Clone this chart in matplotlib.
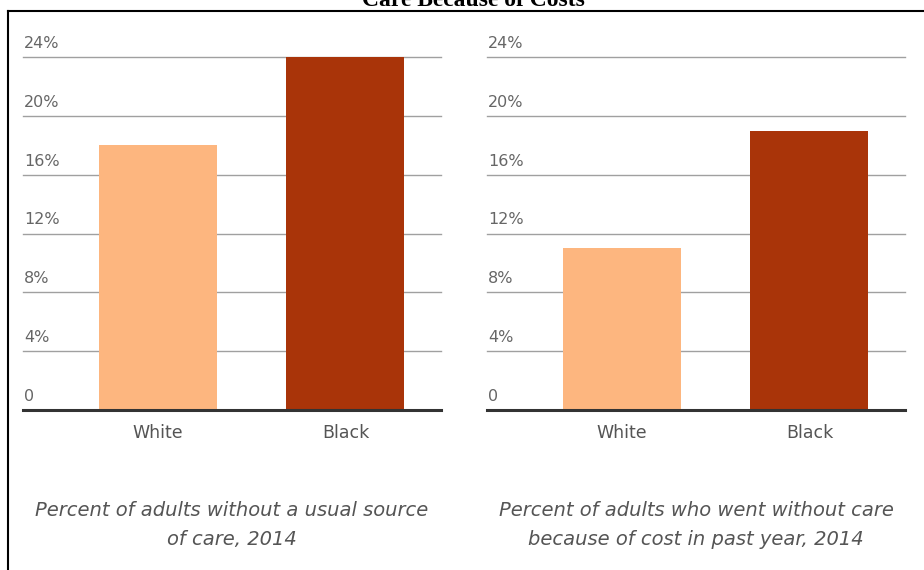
import matplotlib
matplotlib.use("Agg")
import matplotlib.pyplot as plt
from matplotlib.lines import Line2D
import matplotlib.transforms as mtransforms

categories = ["White", "Black"]
usual_source = [18, 24]
cost_without = [11, 19]
yticks = [0, 4, 8, 12, 16, 20, 24]
ytick_labels = ["0", "4%", "8%", "12%", "16%", "20%", "24%"]
captions = ["Percent of adults without a usual source\nof care, 2014",
            "Percent of adults who went without care\nbecause of cost in past year, 2014"]
title = "Care Because of Costs"
colors = ["#FDB67F", "#A93409"]

W, H = 924, 570
fig = plt.figure(figsize=(W / 100, H / 100), dpi=100)
font = "DejaVu Sans"

def px_ax(x0, y0, x1, y1):
    return fig.add_axes([x0 / W, 1 - y1 / H, (x1 - x0) / W, (y1 - y0) / H])

panels = [(23, 441, usual_source, captions[0]), (487, 905, cost_without, captions[1])]
for x0, x1, vals, cap in panels:
    ax = px_ax(x0, 57, x1, 410)
    ax.bar(range(len(categories)), vals, width=0.63, color=colors, zorder=2)
    ax.set_xlim(-0.72, 1.51)
    ax.set_ylim(0, 24)
    for s in ax.spines.values():
        s.set_visible(False)
    ax.set_yticks([])
    ax.set_xticks([])
    for v in yticks[1:]:
        ax.axhline(v, color="#a0a0a0", lw=1.0, zorder=1, clip_on=False)
    ax.axhline(0, color="#333333", lw=2.2, zorder=3, clip_on=False)
    tr = mtransforms.offset_copy(ax.get_yaxis_transform(), fig=fig, x=1, y=6, units="dots")
    for v, lab in zip(yticks, ytick_labels):
        ax.text(0, v, lab, transform=tr, ha="left", va="bottom", fontsize=11.5,
                color="#666666", family=font)
    for i, c in enumerate(categories):
        ax.text(i, -1.56, c, ha="center", va="center", fontsize=12.5,
                color="#555555", family=font)
    cx = (x0 + x1) / 2 / W
    fig.text(cx, 1 - 525 / H, cap, ha="center", va="center", fontsize=14,
             style="italic", color="#555555", family=font, linespacing=1.62)

fig.text(473 / W, 1 - 0 / H, title, ha="center", va="center", fontsize=17,
         weight="bold", family="Liberation Serif", color="black")

fig.add_artist(Line2D([8 / W, 8 / W], [0, 1 - 11 / H], transform=fig.transFigure,
                      color="black", lw=1.5))
fig.add_artist(Line2D([8 / W, 1], [1 - 11 / H, 1 - 11 / H], transform=fig.transFigure,
                      color="black", lw=1.5))

fig.savefig("out.png", dpi=100)
